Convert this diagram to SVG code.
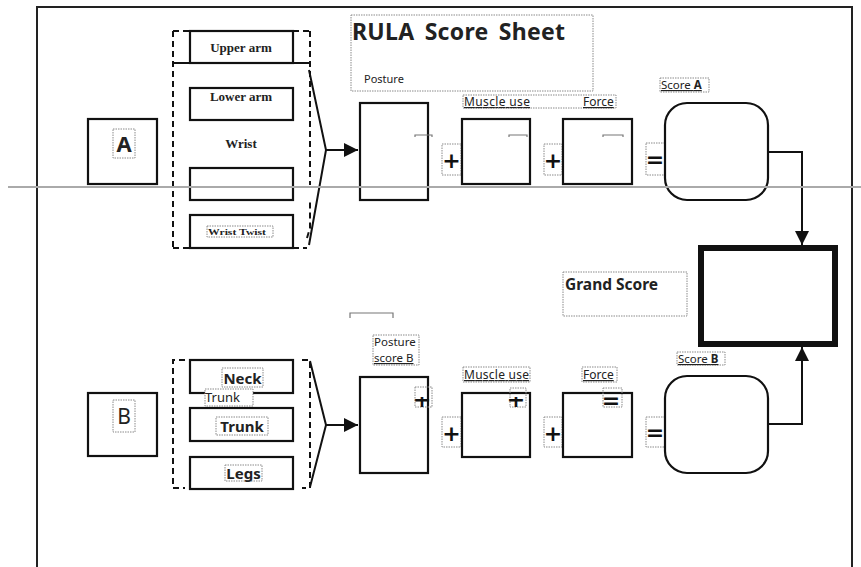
<svg xmlns="http://www.w3.org/2000/svg" width="861" height="567" viewBox="0 0 861 567">
  <style>
    .box { fill: #fff; stroke: #111; stroke-width: 2.2; }
    .rbox { fill: #fff; stroke: #111; stroke-width: 2.2; }
    .lbl { fill: none; stroke: #8a8a8a; stroke-width: 1; stroke-dasharray: 1.5 1; }
    .dash { fill: none; stroke: #111; stroke-width: 2; stroke-dasharray: 6 4; }
    .line { fill: none; stroke: #111; stroke-width: 2; }
    .serif { font-family: "Liberation Serif", "DejaVu Serif", serif; font-weight: bold; fill: #222; }
    .sans { font-family: "Noto Sans", "Open Sans", "DejaVu Sans", sans-serif; fill: #222; }
    .b { font-weight: bold; }
    .u { text-decoration: underline; }
    .op { font-family: "DejaVu Sans", "Noto Sans", sans-serif; font-weight: bold; fill: #111; font-size: 22px; text-anchor: middle; }
    .mark { fill: none; stroke: #777; stroke-width: 1.2; }
  </style>
  <defs>
    <marker id="arrowL" viewBox="0 0 10 10" refX="10" refY="5" markerWidth="14" markerHeight="14" orient="auto" markerUnits="userSpaceOnUse">
      <path d="M0,0 L10,5 L0,10 z" fill="#111"/>
    </marker>
    <clipPath id="cutTop"><rect x="0" y="397" width="861" height="20"/></clipPath>
    <clipPath id="cutTopF"><rect x="0" y="396" width="861" height="20"/></clipPath>
  </defs>

  <!-- sheet frame -->
  <g id="frame">
    <path d="M37,567 V7 H852 V567" fill="none" stroke="#222" stroke-width="2"/>
  </g>

  <!-- title -->
  <g id="title">
    <rect class="lbl" x="351" y="15" width="242" height="76"/>
    <text class="sans b" x="352" y="40" font-size="23" word-spacing="4" textLength="213">RULA Score Sheet</text>
    <text class="sans" x="364" y="83" font-size="11">Posture</text>
  </g>

  <!-- section A: body parts -->
  <g id="groupA">
    <path class="dash" d="M173,31 V248 M173,31 H310 M310,31 V185 M173,248 H307 M307,238 L310,228 V200"/>
    <path class="line" d="M173,63 H310"/>
  </g>
  <g id="nodeA">
    <rect class="box" x="88" y="119" width="69" height="65"/>
    <rect class="lbl" x="113" y="129" width="22" height="29"/>
    <text class="sans b" x="124" y="152" font-size="22" text-anchor="middle">A</text>
  </g>
  <g id="upperArm">
    <rect class="box" x="190" y="31" width="103" height="32"/>
    <text class="serif" x="241" y="52" font-size="13" text-anchor="middle">Upper arm</text>
  </g>
  <g id="lowerArm">
    <rect class="box" x="190" y="88" width="103" height="32"/>
    <text class="serif" x="241" y="101" font-size="13" text-anchor="middle">Lower arm</text>
  </g>
  <g id="wrist">
    <text class="serif" x="241" y="148" font-size="13" text-anchor="middle">Wrist</text>
    <rect class="box" x="190" y="168" width="103" height="32"/>
  </g>
  <g id="wristTwist">
    <rect class="box" x="190" y="215" width="103" height="33"/>
    <rect class="lbl" x="207" y="226" width="66" height="11"/>
    <text class="serif" x="208" y="235" font-size="9" font-weight="normal" textLength="58" lengthAdjust="spacingAndGlyphs">Wrist  Twist</text>
  </g>

  <!-- section A: scoring row -->
  <g id="postureA">
    <rect class="box" x="360" y="103" width="68" height="97"/>
    <path class="mark" d="M415,137 V135 H432 V137"/>
  </g>
  <g id="labelsA">
    <rect class="lbl" x="463" y="95" width="153" height="13"/>
    <text class="sans u" x="464" y="106" font-size="12" textLength="66">Muscle use</text>
    <text class="sans u" x="583" y="106" font-size="12">Force</text>
  </g>
  <g id="plusA1">
    <rect class="lbl" x="442" y="144" width="19" height="31"/>
    <text class="op" x="451.5" y="168">+</text>
  </g>
  <g id="muscleA">
    <rect class="box" x="462" y="119" width="68" height="65"/>
    <path class="mark" d="M509,137 V135 H527 V137"/>
  </g>
  <g id="plusA2">
    <rect class="lbl" x="544" y="144" width="18" height="31"/>
    <text class="op" x="553" y="168">+</text>
  </g>
  <g id="forceA">
    <rect class="box" x="563" y="119" width="69" height="65"/>
    <path class="mark" d="M603,137 V135 H623 V137"/>
  </g>
  <g id="equalsA">
    <rect class="lbl" x="646" y="143" width="19" height="32"/>
    <text class="op" x="655" y="167">=</text>
  </g>
  <g id="scoreA">
    <rect class="lbl" x="660" y="78" width="49" height="14"/>
    <text class="sans u" x="661" y="89" font-size="11.5">Score <tspan font-weight="bold">A</tspan></text>
    <rect class="rbox" x="665" y="103" width="103" height="97" rx="22" ry="22"/>
  </g>

  <!-- grand score -->
  <g id="grandScore">
    <rect class="lbl" x="563" y="272" width="124" height="44"/>
    <text class="sans b" x="565" y="290" font-size="15.5">Grand Score</text>
    <rect x="701" y="248" width="134" height="96" fill="#fff" stroke="#111" stroke-width="6"/>
  </g>
  <g id="fragment">
    <path class="mark" d="M350,318 V313 H393 V318"/>
  </g>

  <!-- section B: body parts -->
  <g id="groupB">
    <path class="dash" d="M185,360 H173 V488 H185 M302,360 H310 V488 H302"/>
  </g>
  <g id="nodeB">
    <rect class="box" x="88" y="393" width="69" height="63"/>
    <rect class="lbl" x="113" y="400" width="22" height="32"/>
    <text class="sans" x="124" y="424" font-size="21" text-anchor="middle">B</text>
  </g>
  <g id="neck">
    <rect class="box" x="190" y="360" width="103" height="33"/>
    <rect class="lbl" x="222" y="368" width="41" height="19"/>
    <text class="sans b" x="242.5" y="384" font-size="15" text-anchor="middle">Neck</text>
  </g>
  <g id="trunkNote">
    <rect x="205" y="389" width="48" height="17" fill="#fff" stroke="#8a8a8a" stroke-width="1" stroke-dasharray="1.5 1"/>
    <text class="sans" x="205" y="402" font-size="13">Trunk</text>
  </g>
  <g id="trunk">
    <rect class="box" x="190" y="408" width="103" height="33"/>
    <rect class="lbl" x="216" y="417" width="52" height="18"/>
    <text class="sans b" x="242" y="432" font-size="15" text-anchor="middle">Trunk</text>
  </g>
  <g id="legs">
    <rect class="box" x="190" y="457" width="103" height="32"/>
    <rect class="lbl" x="225" y="465" width="37" height="16"/>
    <text class="sans b" x="243.5" y="479" font-size="15" text-anchor="middle">Legs</text>
  </g>

  <!-- section B: scoring row -->
  <g id="postureB">
    <rect class="lbl" x="373" y="335" width="46" height="30"/>
    <text class="sans" x="374" y="346" font-size="11.5">Posture</text>
    <text class="sans u" x="374" y="362" font-size="11.5">score B</text>
    <rect class="box" x="360" y="377" width="68" height="96"/>
    <rect class="lbl" x="415" y="387" width="17" height="20"/>
    <text class="op" x="422" y="407" font-size="18" clip-path="url(#cutTop)">+</text>
  </g>
  <g id="plusB1">
    <rect class="lbl" x="442" y="417" width="19" height="30"/>
    <text class="op" x="451.5" y="441">+</text>
  </g>
  <g id="muscleB">
    <rect class="lbl" x="463" y="367" width="67" height="15"/>
    <text class="sans u" x="464" y="379" font-size="12" textLength="65">Muscle use</text>
    <rect class="box" x="462" y="393" width="68" height="64"/>
    <rect class="lbl" x="510" y="388" width="16" height="19"/>
    <text class="op" x="516" y="407" font-size="18" clip-path="url(#cutTop)">+</text>
  </g>
  <g id="plusB2">
    <rect class="lbl" x="544" y="417" width="18" height="30"/>
    <text class="op" x="553" y="441">+</text>
  </g>
  <g id="forceB">
    <rect class="lbl" x="582" y="367" width="35" height="15"/>
    <text class="sans u" x="583" y="379" font-size="12">Force</text>
    <rect class="box" x="563" y="393" width="69" height="64"/>
    <rect class="lbl" x="603" y="388" width="19" height="19"/>
    <text class="op" x="611" y="408" font-size="17" clip-path="url(#cutTopF)">=</text>
  </g>
  <g id="equalsB">
    <rect class="lbl" x="646" y="417" width="19" height="30"/>
    <text class="op" x="655" y="440">=</text>
  </g>
  <g id="scoreB">
    <rect class="lbl" x="677" y="352" width="48" height="13"/>
    <text class="sans u" x="678" y="363" font-size="11.5">Score <tspan font-weight="bold">B</tspan></text>
    <rect class="rbox" x="665" y="376" width="103" height="97" rx="22" ry="22"/>
  </g>

  <!-- connectors -->
  <g id="connectors">
    <path class="line" d="M309,70 L326,150 L309,245"/>
    <path class="line" d="M326,150 H358" marker-end="url(#arrowL)"/>
    <path class="line" d="M310,361 L326,425 L310,487"/>
    <path class="line" d="M326,425 H358" marker-end="url(#arrowL)"/>
    <path class="line" d="M768,152 H802 V245" marker-end="url(#arrowL)"/>
    <path class="line" d="M768,424 H802 V347" marker-end="url(#arrowL)"/>
  </g>

  <!-- section divider rule -->
  <g id="divider">
    <path d="M8,187 H861" fill="none" stroke="#9a9a9a" stroke-width="2.2"/>
    <path d="M8,187 H861" fill="none" stroke="#d0d0d0" stroke-width="0.6"/>
  </g>
</svg>
